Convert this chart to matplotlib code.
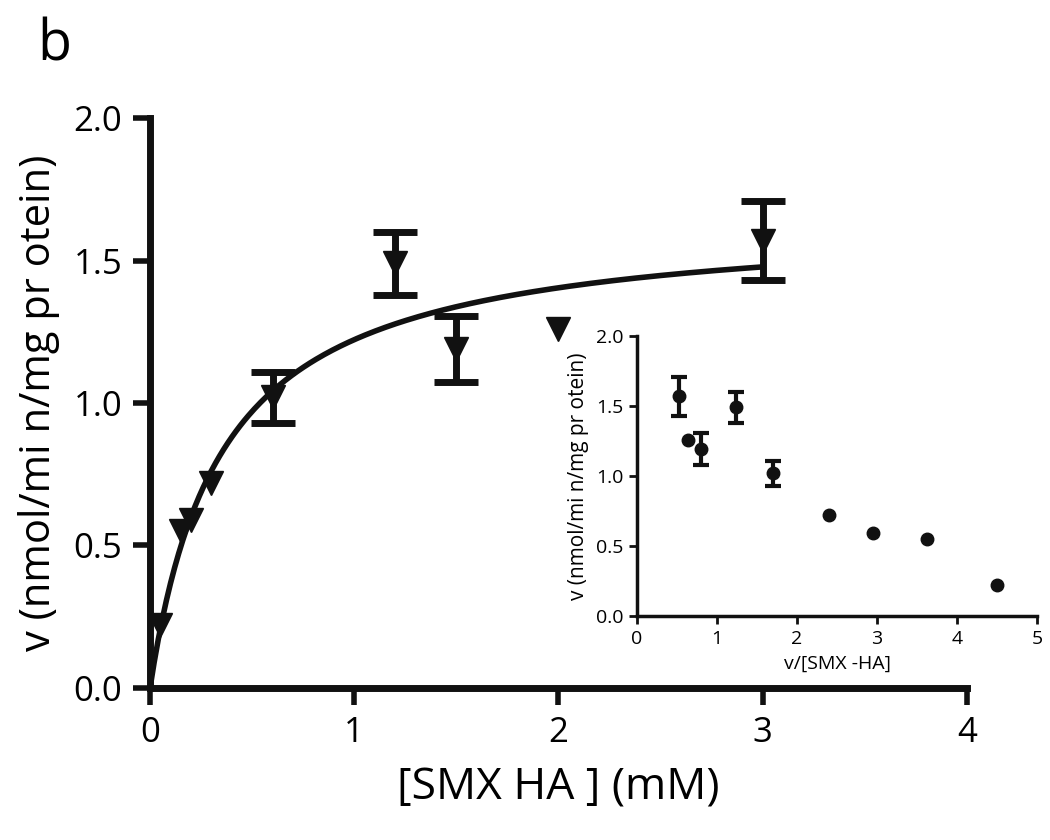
import numpy as np
import matplotlib
matplotlib.use("Agg")
import matplotlib.pyplot as plt

plt.rcParams['font.family'] = ['Open Sans', 'DejaVu Sans']

# Main plot data: substrate concentration (mM) vs rate
conc = [0.05, 0.15, 0.2, 0.3, 0.6, 1.2, 1.5, 2.0, 3.0]
rate = [0.22, 0.55, 0.59, 0.72, 1.02, 1.49, 1.19, 1.26, 1.57]
rate_err = [0, 0, 0, 0, 0.09, 0.11, 0.115, 0, 0.14]

# Michaelis-Menten fit parameters
VMAX = 1.65
KM = 0.35

# Inset (Eadie-Hofstee) data
ratio = [0.52, 0.64, 0.80, 1.24, 1.70, 2.40, 2.95, 3.63, 4.50]
rate_in = [1.57, 1.26, 1.19, 1.49, 1.02, 0.72, 0.59, 0.55, 0.22]
rate_in_err = [0.14, 0, 0.115, 0.11, 0.09, 0, 0, 0, 0]

C = '#111111'


def with_err(x, y, e):
    idx = [i for i, v in enumerate(e) if v > 0]
    return [x[i] for i in idx], [y[i] for i in idx], [e[i] for i in idx]


fig = plt.figure(figsize=(10.5, 8.4), dpi=100)
ax = fig.add_axes([0.1429, 0.181, 0.778, 0.6785])

xs = np.linspace(0, 3.0, 300)
ax.plot(xs, VMAX * xs / (KM + xs), color=C, lw=4, zorder=2)
ex, ey, ee = with_err(conc, rate, rate_err)
ax.errorbar(ex, ey, yerr=ee, fmt='none', ecolor=C,
            elinewidth=5, capsize=16, capthick=5, zorder=3, clip_on=False)
ax.plot(conc, rate, 'v', color=C, ms=17, zorder=4, clip_on=False)

ax.set_xlim(0, 4)
ax.set_ylim(0, 2.0)
ax.set_xticks([0, 1, 2, 3, 4])
ax.set_yticks([0, 0.5, 1.0, 1.5, 2.0])
ax.set_yticklabels(['0.0', '0.5', '1.0', '1.5', '2.0'])
for s in ['top', 'right']:
    ax.spines[s].set_visible(False)
for s in ['left', 'bottom']:
    ax.spines[s].set_linewidth(5)
    ax.spines[s].set_color(C)
ax.tick_params(width=4, length=12, labelsize=25, color=C, pad=8)
ax.set_xlabel('[SMX HA ] (mM)', fontsize=32, labelpad=12)
ax.set_ylabel('v (nmol/mi n/mg pr otein)', fontsize=30, labelpad=10)

fig.text(0.035, 0.945, 'b', fontsize=40, va='center', ha='left')

# Inset
ax2 = fig.add_axes([0.6067, 0.2667, 0.3809, 0.3333])
ix, iy, ie = with_err(ratio, rate_in, rate_in_err)
ax2.errorbar(ix, iy, yerr=ie, fmt='none', ecolor=C,
             elinewidth=3, capsize=6, capthick=3, zorder=3, clip_on=False)
ax2.plot(ratio, rate_in, 'o', color=C, ms=9, zorder=4, clip_on=False)
ax2.set_xlim(0, 5)
ax2.set_ylim(0, 2.0)
ax2.set_xticks([0, 1, 2, 3, 4, 5])
ax2.set_yticks([0, 0.5, 1.0, 1.5, 2.0])
ax2.set_yticklabels(['0.0', '0.5', '1.0', '1.5', '2.0'])
ax2.patch.set_alpha(0)
for s in ['top', 'right']:
    ax2.spines[s].set_visible(False)
for s in ['left', 'bottom']:
    ax2.spines[s].set_linewidth(2.5)
    ax2.spines[s].set_color(C)
ax2.tick_params(width=2, length=6, labelsize=14, color=C, pad=4)
ax2.set_xlabel('v/[SMX -HA]', fontsize=14, labelpad=5)
ax2.set_ylabel('v (nmol/mi n/mg pr otein)', fontsize=15, labelpad=5)

fig.savefig('out.png', dpi=100)
